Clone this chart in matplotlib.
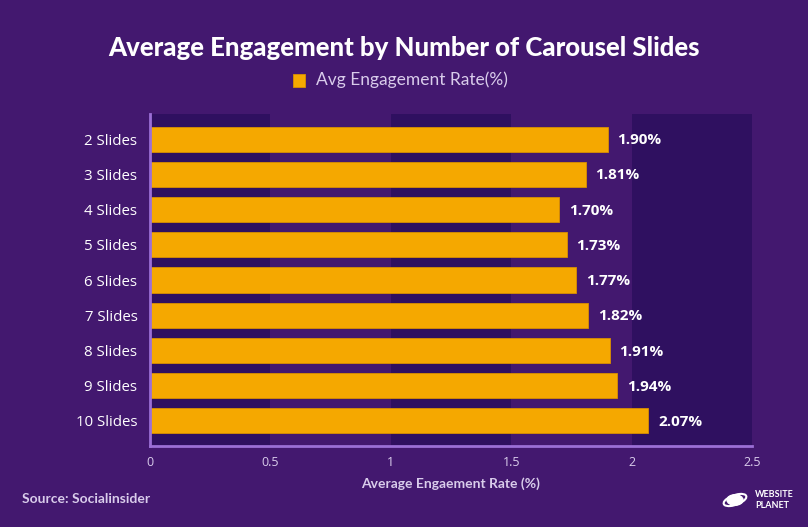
import matplotlib
matplotlib.use("Agg")
import matplotlib.pyplot as plt
from matplotlib.patches import Rectangle, Circle, Ellipse

categories = ["2 Slides", "3 Slides", "4 Slides", "5 Slides", "6 Slides",
              "7 Slides", "8 Slides", "9 Slides", "10 Slides"]
values = [1.90, 1.81, 1.70, 1.73, 1.77, 1.82, 1.91, 1.94, 2.07]
xticks = [0, 0.5, 1, 1.5, 2, 2.5]
xtick_labels = ["0", "0.5", "1", "1.5", "2", "2.5"]

BG = "#43186F"
BAND = "#2F1060"
BAR = "#F5A800"
AXIS = "#9B6FD6"
LAV = "#D9CCEB"

fig = plt.figure(figsize=(8.08, 5.27), dpi=100, facecolor=BG)
ax = fig.add_axes([150/808, 1-446/527, (752-150)/808, (446-114)/527])
ax.set_facecolor(BG)

# alternating bands
for i in range(0, 5, 2):
    ax.axvspan(xticks[i], xticks[i+1], color=BAND, zorder=0, lw=0)

y = list(range(len(categories)))
ax.barh(y, values, height=0.71, color=BAR, edgecolor="#D98F00", linewidth=0.6, zorder=2)
for yi, v in zip(y, values):
    ax.text(v + 0.04, yi + 0.03, f"{v:.2f}%", va="center", ha="left", color="white",
            fontsize=11, fontweight="bold", family="Open Sans", zorder=3)

ax.set_ylim(len(categories) - 1 + 0.71, -0.71)
ax.set_xlim(0, 2.5)
ax.set_yticks(y)
ax.set_yticklabels(categories, family="Open Sans", fontsize=10.8, color="white")
ax.set_xticks(xticks)
ax.set_xticklabels(xtick_labels, family="Open Sans", fontsize=9, color=LAV)
ax.tick_params(axis="both", length=0)
ax.tick_params(axis="y", pad=9)
ax.tick_params(axis="x", pad=7)
for s in ["top", "right"]:
    ax.spines[s].set_visible(False)
for s in ["left", "bottom"]:
    ax.spines[s].set_color(AXIS)
    ax.spines[s].set_linewidth(2)

ax.set_xlabel("Average Engaement Rate (%)", family="Lato", fontweight="bold",
              fontsize=10, color=LAV, labelpad=6)

fig.text(0.5, 1-48/527, "Average Engagement by Number of Carousel Slides",
         ha="center", va="center", color="white", fontsize=18.5, fontweight="black",
         family="Lato")

# legend
fig.patches.append(Rectangle((293/808, 1-87/527), 12/808, 13/527,
                             transform=fig.transFigure, facecolor=BAR,
                             edgecolor="#D98F00", lw=0.6))
fig.text(316/808, 1-80/527, "Avg Engagement Rate(%)", ha="left", va="center",
         color=LAV, fontsize=12.5, family="Lato")

fig.text(22/808, 1-499/527, "Source: Socialinsider", ha="left", va="center",
         color=LAV, fontsize=10, fontweight="bold", family="Lato")

# logo approximation
fig.patches.append(Ellipse((735/808, 1-500/527), 26/808, 9/527, angle=35,
                           transform=fig.transFigure, facecolor="none",
                           edgecolor="white", lw=1.5))
fig.patches.append(Circle((735/808, 1-500/527), 8/808,
                          transform=fig.transFigure, facecolor="white",
                          edgecolor="white"))
fig.text(755/808, 1-500/527, "WEBSITE\nPLANET", ha="left", va="center",
         color="white", fontsize=6.5, fontweight="bold", family="Lato",
         linespacing=1.3)

fig.savefig("out.png", dpi=100, facecolor=BG)
